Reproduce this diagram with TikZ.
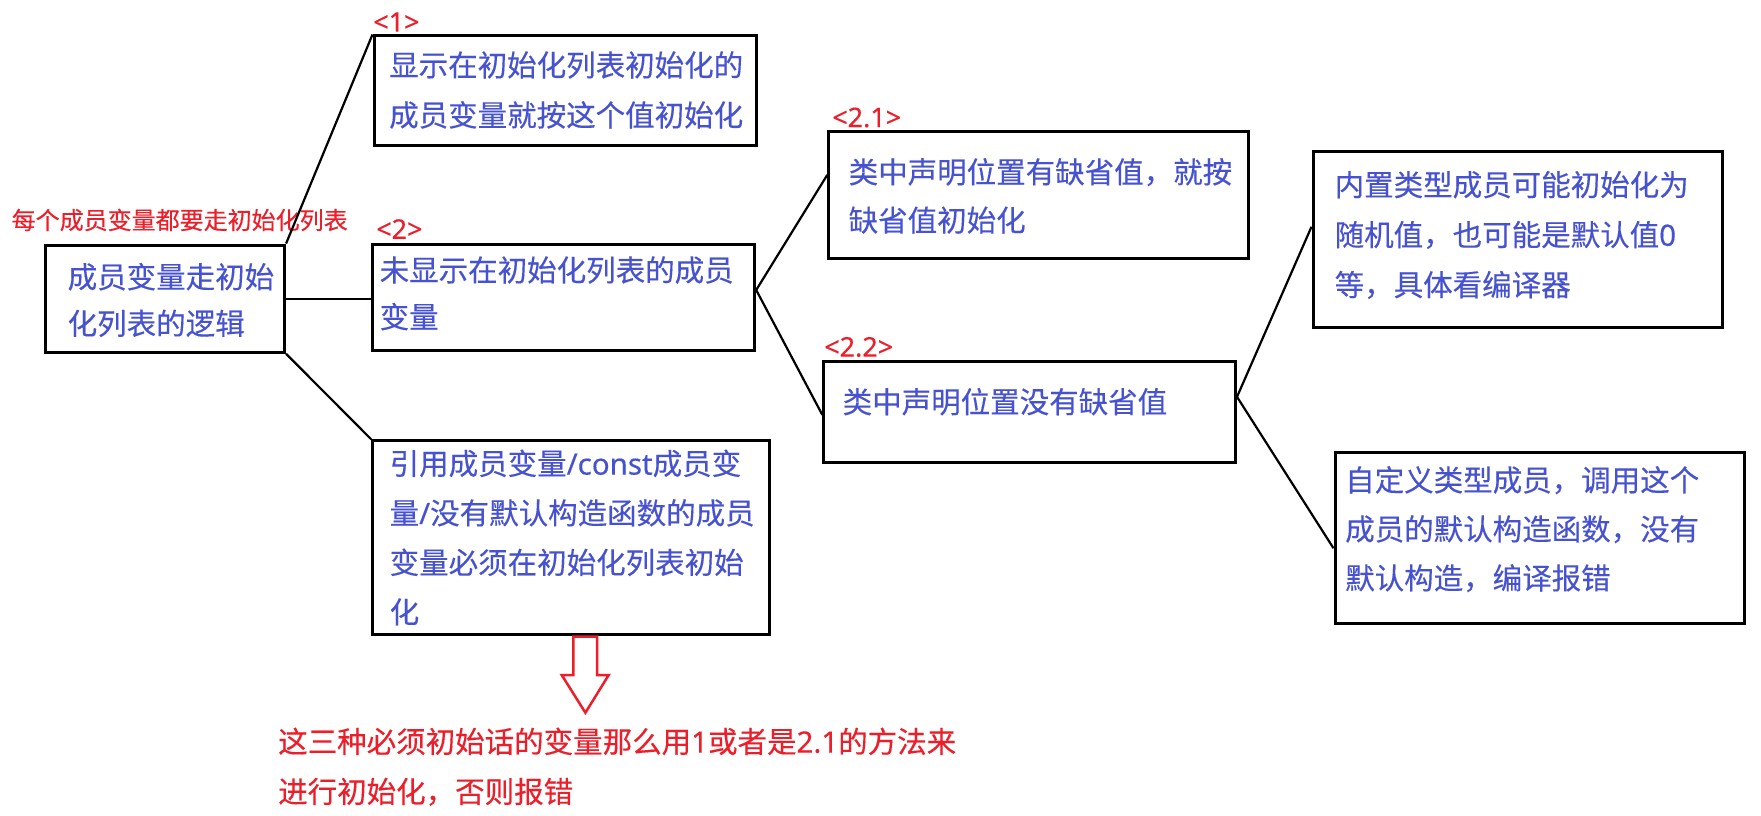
\documentclass[tikz,border=0pt]{standalone}
\usepackage{fontspec}
\setmainfont{Noto Sans CJK SC}[FakeBold=0.3]
\newfontfamily\lat{Noto Sans}[FakeBold=0.3]
\usetikzlibrary{fit}
\definecolor{txtblue}{RGB}{70,82,208}
\definecolor{txtred}{RGB}{236,30,42}
\tikzset{
  box/.style={draw=black, line width=3pt, inner sep=0pt},
  conn/.style={draw=black, line width=2.2pt},
  btext/.style={text=txtblue, anchor=west, align=left, inner sep=0pt, font=\fontsize{29.5}{#1}\selectfont},
  btext/.default=50,
  lab/.style={text=txtred, anchor=west, inner sep=0pt, font=\lat\fontsize{27}{30}\selectfont},
  rtext/.style={text=txtred, anchor=west, align=left, inner sep=0pt, font=\fontsize{#1}{50}\selectfont},
}
\begin{document}
\begin{tikzpicture}[x=1pt,y=-1pt]
\useasboundingbox (0,0) rectangle (1761,816);
% boxes
\node[box, fit={(45.8,245) (284.6,352.3)}] (A) {};
\node[box, fit={(374,36) (756,145.7)}] (B1) {};
\node[box, fit={(372,244.3) (754.7,350.7)}] (B2) {};
\node[box, fit={(372.6,440.7) (769.6,634.3)}] (B3) {};
\node[box, fit={(828.8,131.7) (1248,258)}] (B21) {};
\node[box, fit={(823.8,361.7) (1235.5,462)}] (B22) {};
\node[box, fit={(1313,151.7) (1722,327)}] (R1) {};
\node[box, fit={(1335,452.7) (1744.5,623)}] (R2) {};
% texts
\node[btext=46.6] (tA) at (67.5,300) {成员变量走初始\\化列表的逻辑};
\node[btext] (t1) at (389,90) {显示在初始化列表初始化的\\成员变量就按这个值初始化};
\node[btext=46.7] (t2) at (379.5,293.3) {未显示在初始化列表的成员\\变量};
\node[btext=49.5] (t3) at (389.5,537.5) {引用成员变量{\lat/const}成员变\\量{\lat/}没有默认构造函数的成员\\变量必须在初始化列表初始\\化};
\node[btext=48.3] (t21) at (848.5,195.9) {类中声明位置有缺省值，就按\\缺省值初始化};
\node[btext] (t22) at (842.5,401.7) {类中声明位置没有缺省值};
\node[btext] (tR1) at (1334.5,235) {内置类型成员可能初始化为\\随机值，也可能是默认值{\lat 0}\\等，具体看编译器};
\node[btext=49] (tR2) at (1345,529.2) {自定义类型成员，调用这个\\成员的默认构造函数，没有\\默认构造，编译报错};
% red labels
\node[lab] (l1) at (373,22) {<1>};
\node[lab] (l2) at (376,229) {<2>};
\node[lab] (l21) at (832,117.5) {<2.1>};
\node[lab] (l22) at (824,347) {<2.2>};
\node[rtext=24] (top) at (11.5,220) {每个成员变量都要走初始化列表};
\node[rtext=29.5] (bottom) at (278,766.7) {这三种必须初始话的变量那么用{\lat 1}或者是{\lat 2.1}的方法来\\进行初始化，否则报错};
% connectors
\draw[conn] (A.north east) -- (B1.north west);
\draw[conn] (A.east) -- (A.east -| B2.west);
\draw[conn] (A.south east) -- (B3.north west);
\coordinate (p2) at ([yshift=7.5pt]B2.east);
\draw[conn] (p2) -- ([yshift=20pt]B21.west);
\draw[conn] (p2) -- ([yshift=-3pt]B22.west);
\coordinate (p22) at ([yshift=15pt]B22.east);
\draw[conn] (p22) -- ([yshift=12.6pt]R1.west);
\draw[conn] (p22) -- ([yshift=-10.4pt]R2.west);
% hollow arrow
\draw[draw=txtred, line width=2.5pt, line join=miter]
  (573.3,636.7) -- (597,636.7) -- (597,675) -- (608.7,675) -- (585.4,712.7)
  -- (561.7,675) -- (573.3,675) -- cycle;
\end{tikzpicture}
\end{document}
